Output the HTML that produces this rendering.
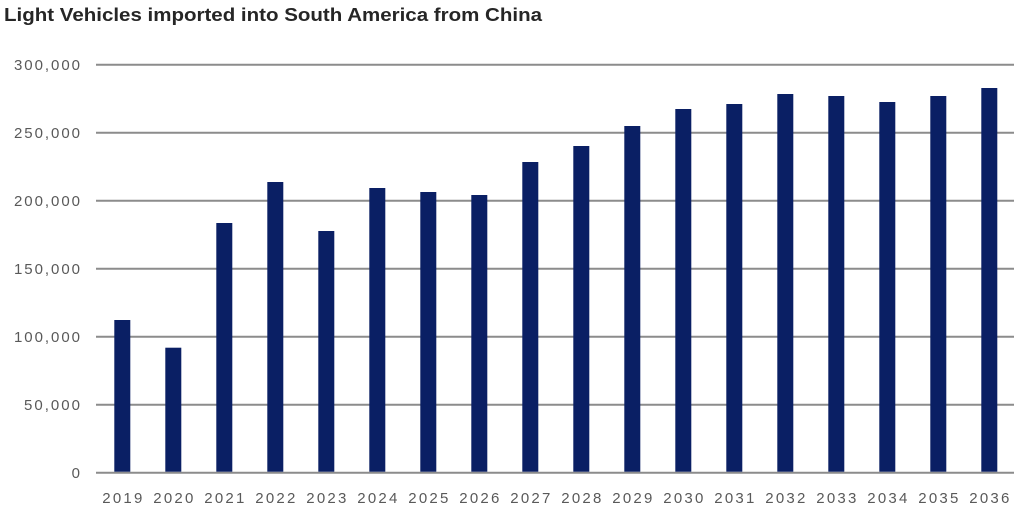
<!DOCTYPE html><html><head><style>body{margin:0;background:#fff}</style></head><body>
<svg width="1024" height="515" xmlns="http://www.w3.org/2000/svg" font-family="Liberation Sans, sans-serif">
<text x="4" y="21" font-size="18" font-weight="bold" fill="#262626" textLength="538" lengthAdjust="spacingAndGlyphs">Light Vehicles imported into South America from China</text>
<g stroke="#8c8c8c" stroke-width="2">
<line x1="96" x2="1014" y1="64.7" y2="64.7"/><line x1="96" x2="1014" y1="132.7" y2="132.7"/><line x1="96" x2="1014" y1="200.7" y2="200.7"/><line x1="96" x2="1014" y1="268.7" y2="268.7"/><line x1="96" x2="1014" y1="336.7" y2="336.7"/><line x1="96" x2="1014" y1="404.7" y2="404.7"/><line x1="96" x2="1014" y1="472.7" y2="472.7"/>
</g>
<g font-size="15" fill="#595959" text-anchor="end">
<text x="80" y="70" textLength="66">300,000</text><text x="80" y="138" textLength="66">250,000</text><text x="80" y="206" textLength="66">200,000</text><text x="80" y="274" textLength="66">150,000</text><text x="80" y="342" textLength="66">100,000</text><text x="80" y="410" textLength="56">50,000</text><text x="80" y="478">0</text>
</g>
<g fill="#0a1f64" id="b"></g>
<g font-size="15" fill="#595959" id="l"></g>
<script>
var t=[320,347.7,223,182,231,188,192,195,162,146,126,109,104,94,96,102,96,88];
var b=document.getElementById('b'),l=document.getElementById('l'),ns='http://www.w3.org/2000/svg';
t.forEach(function(y,i){var x=114.3+i*51;var r=document.createElementNS(ns,'rect');r.setAttribute('x',x);r.setAttribute('y',y);r.setAttribute('width',16);r.setAttribute('height',471.7-y);b.appendChild(r);
var s=document.createElementNS(ns,'text');s.setAttribute('x',x+8-20);s.setAttribute('y',503);s.setAttribute('textLength',40);s.textContent=2019+i;l.appendChild(s);});
</script>
</svg></body></html>
